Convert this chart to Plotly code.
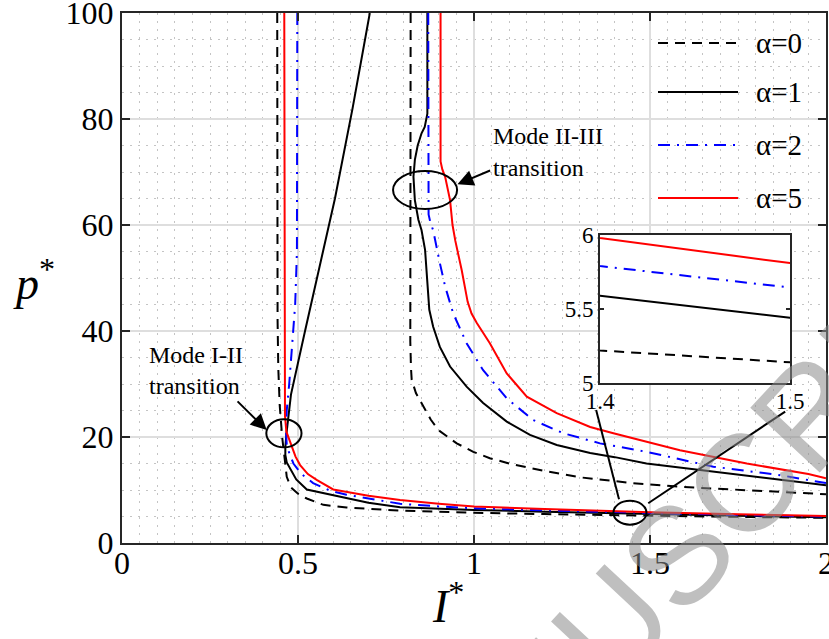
import plotly.graph_objects as go

FONT = "Times New Roman, Liberation Serif, serif"
SANS = "Liberation Sans, Arial, sans-serif"
INK = "#262626"

# ---------------------------------------------------------------- data
alphas = [0, 1, 2, 5]
legend_labels = ["α=0", "α=1", "α=2", "α=5"]

# Mode I-II boundary family (left branch, turning into the low-pressure tail)
i_lo_a0 = [0.441, 0.441, 0.442, 0.444, 0.448, 0.455, 0.462, 0.468, 0.480, 0.500, 0.525,
           0.572, 0.638, 0.790, 0.900, 1.000, 1.200, 1.400, 1.500, 1.750, 2.000]
p_lo_a0 = [100.0, 60.0, 42.0, 33.0, 26.0, 20.0, 15.5, 12.5, 10.5, 9.3, 8.4,
           7.2, 6.7, 6.1, 5.9, 5.7, 5.45, 5.22, 5.14, 4.93, 4.75]

i_lo_a1 = [0.704, 0.655, 0.605, 0.560, 0.520, 0.480, 0.472, 0.467, 0.464, 0.464, 0.468,
           0.477, 0.495, 0.525, 0.600, 0.700, 0.790, 0.900, 1.000, 1.200, 1.400, 1.500,
           1.750, 2.000]
p_lo_a1 = [100.0, 82.0, 65.0, 52.0, 40.0, 28.0, 24.0, 20.5, 18.0, 16.6, 15.2,
           14.1, 12.0, 10.1, 9.0, 7.6, 6.75, 6.45, 6.25, 5.9, 5.59, 5.44,
           5.13, 4.85]

i_lo_a2 = [0.498, 0.498, 0.497, 0.492, 0.484, 0.475, 0.468, 0.466, 0.468, 0.476, 0.487,
           0.510, 0.543, 0.590, 0.638, 0.790, 0.900, 1.000, 1.200, 1.400, 1.500, 1.750,
           2.000]
p_lo_a2 = [100.0, 70.0, 55.0, 45.0, 37.0, 30.0, 25.0, 21.0, 18.5, 16.8, 15.0,
           13.0, 11.3, 9.9, 9.1, 7.4, 6.9, 6.55, 6.15, 5.79, 5.645, 5.28,
           4.97]

i_lo_a5 = [0.461, 0.461, 0.463, 0.467, 0.475, 0.482, 0.493, 0.506, 0.528, 0.553, 0.600,
           0.700, 0.790, 0.900, 1.000, 1.200, 1.400, 1.500, 1.750, 2.000]
p_lo_a5 = [100.0, 30.0, 24.0, 21.0, 19.5, 18.2, 16.3, 14.7, 13.0, 11.9, 10.1,
           8.9, 8.1, 7.4, 6.9, 6.4, 5.98, 5.81, 5.43, 5.1]

# Mode II-III boundary family (right branch)
i_hi_a0 = [0.820, 0.820, 0.818, 0.819, 0.821, 0.823, 0.835, 0.856, 0.877, 0.899, 0.951,
           0.998, 1.045, 1.100, 1.200, 1.300, 1.450, 1.585, 1.775, 2.000]
p_hi_a0 = [100.0, 60.0, 45.0, 38.0, 33.0, 30.8, 28.3, 25.7, 23.3, 21.3, 18.8,
           17.2, 16.0, 15.0, 13.6, 12.4, 11.3, 10.6, 9.9, 9.2]

i_hi_a1 = [0.8675, 0.8675, 0.860, 0.851, 0.840, 0.832, 0.828, 0.832, 0.842, 0.851, 0.861,
           0.867, 0.873, 0.884, 0.903, 0.932, 0.979, 1.026, 1.093, 1.159, 1.235, 1.330,
           1.400, 1.490, 1.680, 1.870, 2.000]
p_hi_a1 = [100.0, 81.0, 78.5, 77.3, 75.0, 72.3, 69.1, 64.7, 61.0, 59.0, 55.3,
           49.6, 44.0, 40.8, 37.0, 33.3, 29.5, 26.4, 22.9, 20.4, 18.5, 17.0,
           16.2, 15.0, 13.5, 11.9, 10.9]

i_hi_a2 = [0.870, 0.870, 0.871, 0.876, 0.884, 0.903, 0.918, 0.941, 0.979, 1.026, 1.093,
           1.168, 1.254, 1.358, 1.490, 1.680, 1.870, 2.000]
p_hi_a2 = [100.0, 66.0, 62.0, 60.5, 59.0, 52.8, 48.4, 43.3, 37.7, 32.6, 27.3,
           23.2, 20.7, 18.8, 17.2, 14.4, 12.8, 11.3]

i_hi_a5 = [0.905, 0.905, 0.910, 0.918, 0.932, 0.939, 0.947, 0.965, 0.982, 0.993, 1.008,
           1.045, 1.093, 1.150, 1.235, 1.330, 1.396, 1.585, 1.775, 1.950, 2.000]
p_hi_a5 = [100.0, 72.0, 70.5, 69.1, 64.7, 60.0, 57.0, 51.5, 45.5, 43.3, 41.5,
           37.7, 32.0, 27.6, 24.5, 21.9, 20.7, 17.5, 15.0, 13.0, 12.2]

x_ticks = [0, 0.5, 1, 1.5, 2]
x_tick_text = ["0", "0.5", "1", "1.5", "2"]
y_ticks = [0, 20, 40, 60, 80, 100]
inset_x_ticks = [1.4, 1.5]
inset_y_ticks = [5, 5.5, 6]

lo_curves = {0: (i_lo_a0, p_lo_a0), 1: (i_lo_a1, p_lo_a1),
             2: (i_lo_a2, p_lo_a2), 5: (i_lo_a5, p_lo_a5)}
hi_curves = {0: (i_hi_a0, p_hi_a0), 1: (i_hi_a1, p_hi_a1),
             2: (i_hi_a2, p_hi_a2), 5: (i_hi_a5, p_hi_a5)}

styles = {
    0: dict(color="black", dash="10px,7px"),
    1: dict(color="black", dash="solid"),
    2: dict(color="#0000ff", dash="12px,7px,2px,7px"),
    5: dict(color="#ff0000", dash="solid"),
}

# ---------------------------------------------------------------- geometry
W, H = 829, 639
L, R, T, B = 122, 826, 13, 543          # plot area in pixels


def px(x):
    return (x - L) / (R - L)


def py(y):
    return (B - y) / (B - T)


fig = go.Figure()

# main curves
for a in alphas:
    for xs, ys in (lo_curves[a], hi_curves[a]):
        fig.add_trace(go.Scatter(x=xs, y=ys, mode="lines",
                                 line=dict(width=2, **styles[a]),
                                 showlegend=False, hoverinfo="skip"))

# zoomed view of the low-pressure tails
for a in alphas:
    xs, ys = lo_curves[a]
    fig.add_trace(go.Scatter(x=xs, y=ys, mode="lines", xaxis="x2", yaxis="y2",
                             line=dict(width=2, **styles[a]),
                             showlegend=False, hoverinfo="skip"))

axis_common = dict(showline=True, linecolor=INK, linewidth=2, mirror="ticks",
                   ticks="inside", tickcolor=INK, zeroline=False,
                   ticklabeloverflow="allow")

fig.update_layout(
    width=W, height=H,
    margin=dict(l=L, r=W - R, t=T, b=H - B, autoexpand=False),
    paper_bgcolor="white", plot_bgcolor="white",
    showlegend=False,
    xaxis=dict(range=[0, 2], tickvals=x_ticks, ticktext=x_tick_text,
               showgrid=True, gridcolor="#dedede", gridwidth=1.5,
               minor=dict(dtick=0.05, showgrid=True, gridcolor="#c4c4c4",
                          griddash="1.5px,6.5px", gridwidth=1),
               ticklen=8, tickwidth=2, ticklabelstandoff=-9,
               tickfont=dict(family=FONT, size=32, color="black"),
               domain=[0, 1], anchor="y", automargin=False, **axis_common),
    yaxis=dict(range=[0, 100], tickvals=y_ticks,
               showgrid=True, gridcolor="#dedede", gridwidth=1.5,
               minor=dict(dtick=5, showgrid=True, gridcolor="#c4c4c4",
                          griddash="1.5px,6.5px", gridwidth=1),
               ticklen=8, tickwidth=2,
               tickfont=dict(family=FONT, size=32, color="black"),
               domain=[0, 1], anchor="x", automargin=False, **axis_common),
    xaxis2=dict(range=[1.4, 1.5], tickvals=inset_x_ticks, ticktext=["1.4", "1.5"],
                showgrid=False, ticklen=4, tickwidth=1.5, ticklabelstandoff=-4,
                tickfont=dict(family=FONT, size=23, color="black"),
                domain=[px(600), px(790)], anchor="y2", **axis_common),
    yaxis2=dict(range=[5, 6], tickvals=inset_y_ticks, ticktext=["5", "5.5", "6"],
                showgrid=False, ticklen=4, tickwidth=1.5,
                tickfont=dict(family=FONT, size=23, color="black"),
                domain=[py(383), py(235)], anchor="x2", **axis_common),
)

shapes = []
# white backing for the inset
shapes.append(dict(type="rect", xref="x2", yref="y2", x0=1.4, x1=1.5, y0=5, y1=6,
                   fillcolor="white", line=dict(width=0), layer="below"))

# transition markers
ring = dict(color="black", width=2)
shapes.append(dict(type="circle", xref="x", yref="y", x0=0.410, x1=0.510,
                   y0=18.05, y1=23.35, line=ring, layer="above"))
shapes.append(dict(type="circle", xref="x", yref="y", x0=0.770, x1=0.952,
                   y0=63.0, y1=70.2, line=ring, layer="above"))
shapes.append(dict(type="circle", xref="x", yref="y", x0=1.396, x1=1.490,
                   y0=3.46, y1=7.98, line=ring, layer="above"))
# leader lines from the zoom ring to the inset
shapes.append(dict(type="line", xref="x", yref="y", x0=1.412, y0=8.25, x1=1.347, y1=25.1,
                   line=ring, layer="above"))
shapes.append(dict(type="line", xref="x", yref="y", x0=1.495, y0=7.5, x1=1.884, y1=24.8,
                   line=ring, layer="above"))

# legend
legend_y = [43, 92, 145, 198]
for a, yy in zip(alphas, legend_y):
    shapes.append(dict(type="line", xref="paper", yref="paper",
                       x0=px(658), x1=px(738), y0=py(yy), y1=py(yy),
                       line=dict(width=2, **styles[a]), layer="above"))
fig.update_layout(shapes=shapes)

ann = [
    # journal watermark running diagonally across the lower right corner
    dict(text="MANUSCRIPT", xref="paper", yref="paper", x=px(680), y=py(552),
         xanchor="center", yanchor="middle", showarrow=False, textangle=-47,
         opacity=0.55, font=dict(family=SANS, size=138, color="#8c8c8c")),
]
for lab, yy in zip(legend_labels, legend_y):
    ann.append(dict(text=lab, xref="paper", yref="paper", x=px(754), y=py(yy),
                    xanchor="left", yanchor="middle", showarrow=False,
                    font=dict(family=FONT, size=29, color="black")))

txt = dict(family=FONT, size=24, color="black")
ann += [
    dict(text="Mode I-II", xref="paper", yref="paper", x=px(147), y=py(355),
         xanchor="left", yanchor="middle", showarrow=False, font=txt),
    dict(text="transition", xref="paper", yref="paper", x=px(147), y=py(386),
         xanchor="left", yanchor="middle", showarrow=False, font=txt),
    dict(text="Mode II-III", xref="paper", yref="paper", x=px(491), y=py(136),
         xanchor="left", yanchor="middle", showarrow=False, font=txt),
    dict(text="transition", xref="paper", yref="paper", x=px(491), y=py(168),
         xanchor="left", yanchor="middle", showarrow=False, font=txt),
    # arrows pointing at the rings
    dict(text="", x=0.411, y=21.3, xref="x", yref="y", ax=0.324, ay=27.0,
         axref="x", ayref="y", showarrow=True, arrowhead=2, arrowsize=1.6,
         arrowwidth=2, arrowcolor="black"),
    dict(text="", x=0.953, y=67.7, xref="x", yref="y", ax=1.050, ay=70.4,
         axref="x", ayref="y", showarrow=True, arrowhead=2, arrowsize=1.6,
         arrowwidth=2, arrowcolor="black"),
    # axis titles
    dict(text="<i>p</i><sup>*</sup>", xref="paper", yref="paper", x=px(34), y=py(280),
         xanchor="center", yanchor="middle", showarrow=False,
         font=dict(family=FONT, size=46, color="black")),
    dict(text="<i>I</i><sup>*</sup>", xref="paper", yref="paper", x=px(448), y=py(603),
         xanchor="center", yanchor="middle", showarrow=False,
         font=dict(family=FONT, size=46, color="black")),
]
fig.update_layout(annotations=ann)

fig.write_html("out.html")
